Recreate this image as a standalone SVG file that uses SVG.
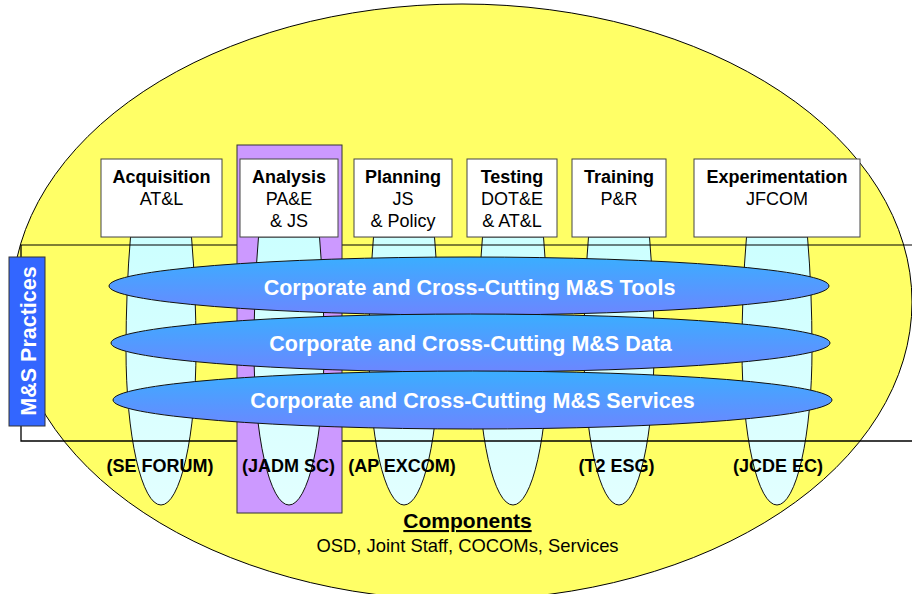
<svg xmlns="http://www.w3.org/2000/svg" width="912" height="594" viewBox="0 0 912 594">
<defs>
<linearGradient id="bandGrad" x1="0" y1="0" x2="0" y2="1">
<stop offset="0" stop-color="#3AAEFF"/>
<stop offset="1" stop-color="#6C86FF"/>
</linearGradient>
<linearGradient id="pillarGrad" x1="0" y1="0" x2="0" y2="1">
<stop offset="0" stop-color="#CCFFFF"/>
<stop offset="1" stop-color="#E2FFFF"/>
</linearGradient>
<style>
.box{fill:#FFFFFF;stroke:#444;stroke-width:1}
.pillar{fill:url(#pillarGrad);stroke:#111;stroke-width:1}
.band{fill:url(#bandGrad);stroke:#111;stroke-width:1}
.t{font-family:"Liberation Sans",Arial,sans-serif;font-size:18px;fill:#000;text-anchor:middle}
.b{font-weight:bold}
.bt{font-family:"Liberation Sans",Arial,sans-serif;font-size:21.5px;font-weight:bold;fill:#FFFFFF;text-anchor:middle}
</style>
</defs>

<ellipse id="components-ellipse" cx="462" cy="302" rx="450" ry="298" fill="#FFFF66" stroke="#000" stroke-width="1"/>

<g id="pillars">
<path class="pillar" d="M130.5,237 Q126,290 126,350 A35 155 0 0 0 196,350 Q196,290 191.5,237 Z"/>
<path class="pillar" d="M373.5,237 Q369,290 369,350 A35 155 0 0 0 439,350 Q439,290 434.5,237 Z"/>
<path class="pillar" d="M482.5,237 Q478,290 478,350 A35 155 0 0 0 548,350 Q548,290 543.5,237 Z"/>
<path class="pillar" d="M588.5,237 Q584,290 584,350 A35 155 0 0 0 654,350 Q654,290 649.5,237 Z"/>
<path class="pillar" d="M746.5,237 Q742,290 742,350 A35 155 0 0 0 812,350 Q812,290 807.5,237 Z"/>
</g>

<g id="frame">
<line x1="21" y1="245" x2="912" y2="245" stroke="#000" stroke-opacity="0.5" stroke-width="2.2"/>
<path d="M21,245 V441 H912" fill="none" stroke="#000" stroke-width="1.3"/>
</g>

<g id="analysis-column">
<rect x="237" y="145" width="105" height="368" fill="#CC99FF" stroke="#333" stroke-width="1"/>
<path class="pillar" d="M258.5,237 Q254,290 254,350 A35 155 0 0 0 324,350 Q324,290 319.5,237 Z"/>
</g>

<g id="ms-practices">
<rect x="9" y="257" width="36" height="169" fill="#3366FF" stroke="#333" stroke-width="1"/>
<text class="bt" transform="translate(36,341) rotate(-90)">M&amp;S Practices</text>
</g>

<g id="band-tools">
<ellipse class="band" cx="469" cy="286" rx="360" ry="29"/>
<text class="bt" x="469.5" y="295">Corporate and Cross-Cutting M&amp;S Tools</text>
</g>
<g id="band-data">
<ellipse class="band" cx="470.5" cy="343" rx="359.5" ry="29"/>
<text class="bt" x="470.5" y="351">Corporate and Cross-Cutting M&amp;S Data</text>
</g>
<g id="band-services">
<ellipse class="band" cx="472.5" cy="400" rx="359.5" ry="29"/>
<text class="bt" x="472.5" y="408">Corporate and Cross-Cutting M&amp;S Services</text>
</g>

<g id="acquisition">
<rect class="box" x="101" y="159" width="121" height="78"/>
<text class="t b" x="161.5" y="183">Acquisition</text>
<text class="t" x="161.5" y="205">AT&amp;L</text>
<text class="t b" x="160" y="472">(SE FORUM)</text>
</g>
<g id="analysis">
<rect class="box" x="240" y="159" width="98" height="78"/>
<text class="t b" x="289" y="183">Analysis</text>
<text class="t" x="289" y="205">PA&amp;E</text>
<text class="t" x="289" y="227">&amp; JS</text>
<text class="t b" x="288.5" y="472">(JADM SC)</text>
</g>
<g id="planning">
<rect class="box" x="354" y="159" width="98" height="78"/>
<text class="t b" x="403" y="183">Planning</text>
<text class="t" x="403" y="205">JS</text>
<text class="t" x="403" y="227">&amp; Policy</text>
<text class="t b" x="402" y="472">(AP EXCOM)</text>
</g>
<g id="testing">
<rect class="box" x="467" y="159" width="90" height="78"/>
<text class="t b" x="512" y="183">Testing</text>
<text class="t" x="512" y="205">DOT&amp;E</text>
<text class="t" x="512" y="227">&amp; AT&amp;L</text>
</g>
<g id="training">
<rect class="box" x="572" y="159" width="94" height="78"/>
<text class="t b" x="619" y="183">Training</text>
<text class="t" x="619" y="205">P&amp;R</text>
<text class="t b" x="616.5" y="472">(T2 ESG)</text>
</g>
<g id="experimentation">
<rect class="box" x="694" y="159" width="166" height="78"/>
<text class="t b" x="777" y="183">Experimentation</text>
<text class="t" x="777" y="205">JFCOM</text>
<text class="t b" x="778" y="472">(JCDE EC)</text>
</g>

<g id="components-label">
<text class="t b" x="467.5" y="528" style="font-size:21px;text-decoration:underline">Components</text>
<text class="t" x="467.5" y="552" style="font-size:18.4px">OSD, Joint Staff, COCOMs, Services</text>
</g>
</svg>
